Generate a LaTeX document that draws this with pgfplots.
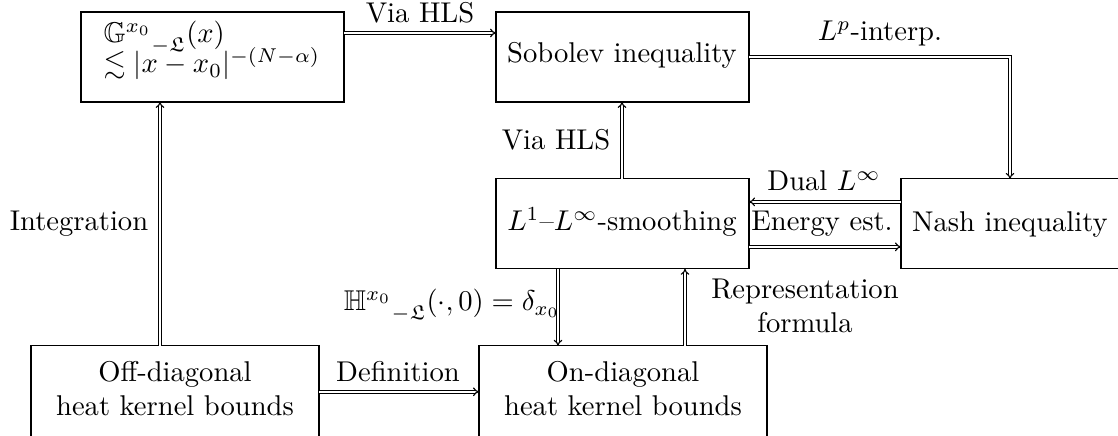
\documentclass[border=0pt]{standalone}
\usepackage{amssymb}
\usepackage{pgfplots}
\pgfplotsset{compat=1.18}
\usetikzlibrary{arrows.meta}
\tikzset{
  box/.style={black,solid,line width=0.4pt,line cap=rect,mark=none},
  dbl/.style={black,solid,double,double distance=0.6pt,line width=0.4pt,line cap=butt,mark=none,-{Implies}},
  lbl/.style={anchor=base,inner sep=0pt}}
\begin{document}
\begin{tikzpicture}
\begin{axis}[width=391pt,height=152.4pt,scale only axis,
  xmin=0,xmax=1118,ymin=0,ymax=436,y dir=reverse,hide axis,clip=true,
  cycle list={{black,solid,mark=none}}]
% boxes
\addplot[box] coordinates {(81,12) (344,12) (344,102) (81,102) (81,12)};
\addplot[box] coordinates {(496,12) (749,12) (749,102) (496,102) (496,12)};
\addplot[box] coordinates {(496,179) (749,179) (749,269) (496,269) (496,179)};
\addplot[box] coordinates {(901,179) (1119,179) (1119,269) (901,269) (901,179)};
\addplot[box] coordinates {(31,346) (319,346) (319,437) (31,437) (31,346)};
\addplot[box] coordinates {(479,346) (767,346) (767,437) (479,437) (479,346)};
% arrows
\addplot[dbl] coordinates {(344,33) (496,33)};
\addplot[dbl] coordinates {(749,57) (1010,57) (1010,179)};
\addplot[dbl] coordinates {(622,179) (622,102)};
\addplot[dbl] coordinates {(901,202) (749,202)};
\addplot[dbl] coordinates {(749,247) (901,247)};
\addplot[dbl] coordinates {(160,346) (160,102)};
\addplot[dbl] coordinates {(319,392) (479,392)};
\addplot[dbl] coordinates {(558,269) (558,346)};
\addplot[dbl] coordinates {(685,346) (685,269)};
% box texts
\node[anchor=base west,inner sep=0pt] at (axis cs:103,43) {$\mathbb{G}^{x_0}{}^{\vphantom{x_0}}_{-\mathfrak{L}}(x)$};
\node[anchor=base west,inner sep=0pt] at (axis cs:103,73) {$\lesssim |x-x_0|^{-(N-\alpha)}$};
\node[lbl] at (axis cs:622,63) {Sobolev inequality};
\node[lbl] at (axis cs:622,231) {$L^1$--$L^\infty$-smoothing};
\node[lbl] at (axis cs:1010,232) {Nash inequality};
\node[lbl] at (axis cs:175,382) {Off-diagonal};
\node[lbl] at (axis cs:175,416) {heat kernel bounds};
\node[lbl] at (axis cs:623,382) {On-diagonal};
\node[lbl] at (axis cs:623,416) {heat kernel bounds};
% arrow labels
\node[lbl] at (axis cs:420,23) {Via HLS};
\node[lbl] at (axis cs:880,41) {$L^p$-interp.};
\node[lbl] at (axis cs:556,150) {Via HLS};
\node[lbl] at (axis cs:824,191) {Dual $L^\infty$};
\node[lbl] at (axis cs:822,231) {Energy est.};
\node[lbl] at (axis cs:79,231) {Integration};
\node[lbl] at (axis cs:452,311) {$\mathbb{H}^{x_0}{}^{\vphantom{x_0}}_{-\mathfrak{L}}(\cdot,0)=\delta_{x_0}$};
\node[lbl] at (axis cs:805,299) {Representation};
\node[lbl] at (axis cs:805,333) {formula};
\node[lbl] at (axis cs:398,382) {Definition};
\end{axis}
\pgfresetboundingbox
\path[use as bounding box] (current axis.south west) rectangle (current axis.north east);
\end{tikzpicture}
\end{document}
